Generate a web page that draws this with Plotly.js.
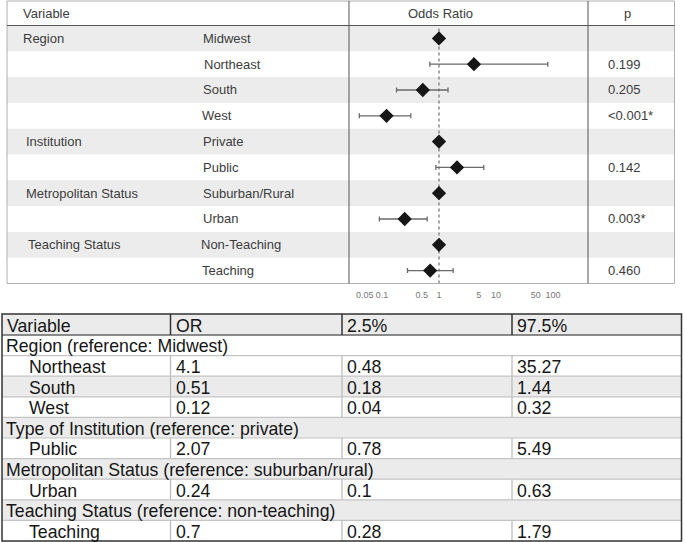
<!DOCTYPE html>
<html>
<head>
<meta charset="utf-8">
<script src="https://cdn.plot.ly/plotly-3.0.1.min.js"></script>
<style>
html,body{margin:0;padding:0;background:#fff;}
#chart{width:685px;height:542px;}
</style>
</head>
<body>
<div id="chart"></div>
<script>
// ---------- Forest plot data ----------
var groups = ["Region", "", "", "", "Institution", "", "Metropolitan Status", "", "Teaching Status", ""];
var levels = ["Midwest", "Northeast", "South", "West", "Private", "Public", "Suburban/Rural", "Urban", "Non-Teaching", "Teaching"];
var orPlot = [1, 4.1, 0.52, 0.12, 1, 2.07, 1, 0.25, 1, 0.7];
var loPlot = [null, 0.69, 0.18, 0.04, null, 0.88, null, 0.09, null, 0.28];
var hiPlot = [null, 81, 1.44, 0.32, null, 6.1, null, 0.62, null, 1.77];
var pVals = ["", "0.199", "0.205", "<0.001*", "", "0.142", "", "0.003*", "", "0.460"];
var tickVals = [0.05, 0.1, 0.5, 1, 5, 10, 50, 100];
var tickText = ["0.05", "0.1", "0.5", "1", "5", "10", "50", "100"];

// ---------- Lower table data ----------
var tblHeader = ["Variable", "OR", "2.5%", "97.5%"];
var tblGroups = ["Region (reference: Midwest)", "Type of Institution (reference: private)",
                 "Metropolitan Status (reference: suburban/rural)", "Teaching Status (reference: non-teaching)"];
var tblGroupSizes = [3, 1, 1, 1];
var tblVars = ["Northeast", "South", "West", "Public", "Urban", "Teaching"];
var tblOR = ["4.1", "0.51", "0.12", "2.07", "0.24", "0.7"];
var tblLo = ["0.48", "0.18", "0.04", "0.78", "0.1", "0.28"];
var tblHi = ["35.27", "1.44", "0.32", "5.49", "0.63", "1.79"];

// ---------- helpers ----------
var W = 685, H = 542;
function px(x) { return x / W; }
function py(y) { return 1 - y / H; }

var shapes = [];
var ann = [];
var FONT = "Liberation Sans, Arial, sans-serif";

function rect(x0, y0, x1, y1, fill, lineColor, lw, layer) {
  shapes.push({type: "rect", xref: "paper", yref: "paper", x0: px(x0), x1: px(x1), y0: py(y1), y1: py(y0),
    fillcolor: fill || "rgba(0,0,0,0)", line: {color: lineColor || "rgba(0,0,0,0)", width: lw || 0}, layer: layer || "below"});
}
function line(x0, y0, x1, y1, color, lw, layer) {
  shapes.push({type: "line", xref: "paper", yref: "paper", x0: px(x0), x1: px(x1), y0: py(y0), y1: py(y1),
    line: {color: color, width: lw}, layer: layer || "above"});
}
function text(x, y, t, size, color, anchor) {
  ann.push({xref: "paper", yref: "paper", x: px(x), y: py(y), text: t, showarrow: false,
    xanchor: anchor || "left", yanchor: "middle", font: {family: FONT, size: size, color: color}, borderpad: 0});
}

// ---------- Top forest table frame ----------
var tTop = 1, tHead = 25.5, tBot = 283.5, tL = 7, tR = 674.5, c1 = 349, c2 = 588;
var nRows = levels.length;
var rowH = (tBot - tHead) / nRows;
for (var i = 0; i < nRows; i++) {
  if (i % 2 === 0) rect(tL, tHead + i * rowH, tR, tHead + (i + 1) * rowH, "#ececec", null, 0, "below");
}
rect(tL, tTop, tR, tBot, null, "#b0b0b0", 1, "above");
line(tL, tHead, tR, tHead, "#555", 1);
line(c1, tTop, c1, tBot, "#555", 1);
line(c2, tTop, c2, tBot, "#555", 1);

var topFont = 13, topCol = "#3c3c3c";
text(22, 13, "Variable", topFont, topCol);
text(440, 13, "Odds Ratio", topFont, topCol, "center");
text(627, 13, "p", topFont, topCol, "center");
var grpX = [22, 0, 0, 0, 25, 0, 25, 0, 27, 0];
var lvlX = [202, 203, 202, 201, 202, 202, 202, 202, 200, 201];
for (var i = 0; i < nRows; i++) {
  var yc = tHead + (i + 0.5) * rowH;
  if (groups[i]) text(grpX[i], yc, groups[i], topFont, topCol);
  text(lvlX[i], yc, levels[i], topFont, topCol);
  if (pVals[i]) text(607, yc, pVals[i], topFont, topCol);
}

// dashed reference line at OR = 1
shapes.push({type: "line", xref: "x", yref: "paper", x0: 1, x1: 1, y0: py(tBot), y1: py(tHead + 1),
  line: {color: "#8a8a8a", width: 1.5, dash: "3px,3px"}, layer: "below"});

// ---------- Lower table ----------
var bL = 2, bR = 681.5, bTop = 314, bHeadB = 335, bBot = 541;
var colX = [bL, 170.5, 342, 512];
var nB = 10;
var bRowH = (bBot - bHeadB) / nB;
var bGrey = [false, false, true, false, true, false, true, false, true, false];
rect(bL, bTop, bR, bHeadB, "#ebebeb", null, 0, "below");
for (var r = 0; r < nB; r++) {
  if (bGrey[r]) rect(bL, bHeadB + r * bRowH, bR, bHeadB + (r + 1) * bRowH, "#ebebeb", null, 0, "below");
}
// row structure
var rowsKind = [];
var vi = 0;
for (var g = 0; g < tblGroups.length; g++) {
  rowsKind.push({g: g});
  for (var k = 0; k < tblGroupSizes[g]; k++) { rowsKind.push({v: vi}); vi++; }
}
var bFont = 17.7, bCol = "#161616";
for (var c = 0; c < 4; c++) text(colX[c] + 4, (bTop + bHeadB) / 2 + 1, tblHeader[c], bFont, bCol);
for (var r = 0; r < rowsKind.length; r++) {
  var y0 = bHeadB + r * bRowH, y1 = y0 + bRowH, yc = (y0 + y1) / 2 + 1;
  if (r > 0) line(bL, y0, bR, y0, "#c4c4c4", 1.2);
  var rk = rowsKind[r];
  if (rk.g !== undefined) {
    text(bL + 3, yc, tblGroups[rk.g], bFont, bCol);
  } else {
    text(28, yc, tblVars[rk.v], bFont, bCol);
    text(colX[1] + 4, yc, tblOR[rk.v], bFont, bCol);
    text(colX[2] + 4, yc, tblLo[rk.v], bFont, bCol);
    text(colX[3] + 4, yc, tblHi[rk.v], bFont, bCol);
    for (var c = 1; c < 4; c++) line(colX[c], y0, colX[c], y1, "#b8b8b8", 1.2);
  }
}
line(bL, bHeadB, bR, bHeadB, "#666", 1.5);
for (var c = 1; c < 4; c++) line(colX[c], bTop, colX[c], bHeadB, "#333", 1.5);
rect(bL, bTop, bR, bBot, null, "#333", 1.5, "above");

// ---------- Forest trace ----------
var yIdx = levels.map(function (_, i) { return i; });
var errPlus = orPlot.map(function (v, i) { return hiPlot[i] == null ? 0 : hiPlot[i] - v; });
var errMinus = orPlot.map(function (v, i) { return loPlot[i] == null ? 0 : v - loPlot[i]; });

var trace = {
  type: "scatter", mode: "markers", x: orPlot, y: yIdx,
  marker: {symbol: "diamond", size: 11, color: "#161616"},
  error_x: {type: "data", symmetric: false, array: errPlus, arrayminus: errMinus,
    color: "#6a6a6a", thickness: 1.3, width: 2.5},
  hoverinfo: "x+y", showlegend: false
};

var layout = {
  width: W, height: H, margin: {l: 0, r: 0, t: 0, b: 0},
  paper_bgcolor: "#fff", plot_bgcolor: "rgba(0,0,0,0)",
  showlegend: false,
  xaxis: {type: "log", domain: [px(c1), px(c2)], range: [-1.579, 2.614],
    tickvals: tickVals, ticktext: tickText, ticks: "outside", ticklen: 3, tickcolor: "rgba(0,0,0,0)",
    showgrid: false, zeroline: false, showline: false,
    tickfont: {family: FONT, size: 9, color: "#777"}, fixedrange: true},
  yaxis: {domain: [py(tBot), py(tHead)], range: [nRows - 0.5, -0.5], visible: false, fixedrange: true},
  shapes: shapes, annotations: ann
};

Plotly.newPlot("chart", [trace], layout, {displayModeBar: false, staticPlot: true});
</script>
</body>
</html>
